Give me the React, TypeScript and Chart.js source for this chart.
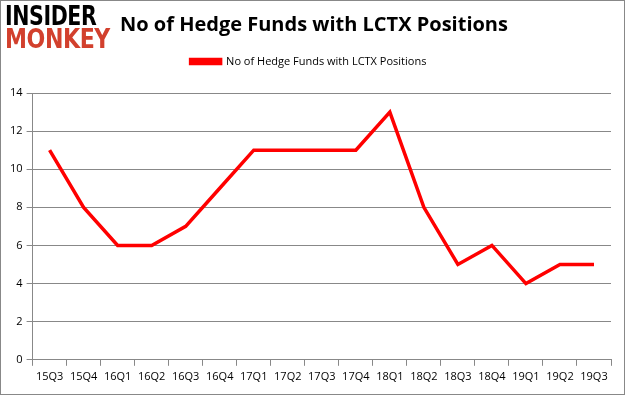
import React, { useEffect, useRef } from "react";
import { Chart, registerables } from "chart.js";

Chart.register(...registerables);

const categories = ["15Q3","15Q4","16Q1","16Q2","16Q3","16Q4","17Q1","17Q2","17Q3","17Q4","18Q1","18Q2","18Q3","18Q4","19Q1","19Q2","19Q3"];
const hedgeFunds = [11, 8, 6, 6, 7, 9, 11, 11, 11, 11, 13, 8, 5, 6, 4, 5, 5];
const seriesLabel = "No of Hedge Funds with LCTX Positions";
const titleText = "No of Hedge Funds with LCTX Positions";

const legendGap = {
  id: "legendGap",
  beforeInit(chart: any) {
    const fit = chart.legend.fit;
    chart.legend.fit = function () {
      fit.bind(this)();
      this.height += 16;
    };
  },
};

export default function App() {
  const ref = useRef<HTMLCanvasElement>(null);
  useEffect(() => {
    const ctx = ref.current!;
    const chart = new Chart(ctx, {
      type: "line",
      data: {
        labels: categories,
        datasets: [
          {
            label: seriesLabel,
            data: hedgeFunds,
            borderColor: "#ff0000",
            backgroundColor: "#ff0000",
            borderWidth: 3.5,
            pointRadius: 0,
            tension: 0,
          },
        ],
      },
      plugins: [legendGap],
      options: {
        animation: false,
        responsive: false,
        layout: { padding: { top: 46, left: 6, right: 14, bottom: 8 } },
        plugins: {
          legend: {
            display: true,
            labels: {
              boxWidth: 30,
              boxHeight: 4,
              color: "#000",
              font: { family: "'Open Sans', sans-serif", size: 11 },
              padding: 10,
            },
          },
          tooltip: { enabled: false },
        },
        scales: {
          x: {
            offset: true,
            grid: {
              offset: true,
              drawOnChartArea: false,
              color: "#888",
              tickLength: 6,
            },
            border: { color: "#888" },
            ticks: {
              color: "#000",
              font: { family: "'Open Sans', sans-serif", size: 11 },
              maxRotation: 0,
              autoSkip: false,
              padding: 4,
            },
          },
          y: {
            min: 0,
            max: 14,
            grid: { color: "#888", tickLength: 6 },
            border: { color: "#888" },
            ticks: {
              stepSize: 2,
              color: "#000",
              font: { family: "'Open Sans', sans-serif", size: 11 },
              padding: 4,
            },
          },
        },
      },
    });
    return () => chart.destroy();
  }, []);

  return (
    <div style={{ position: "fixed", left: 0, top: 0, width: 625, height: 395, background: "#fff" }}>
      <canvas ref={ref} width={625} height={395} style={{ position: "absolute", left: 0, top: 0 }} />
      <div style={{ position: "absolute", left: 0, top: 0, width: 623, height: 393, border: "1px solid #888" }} />
      <div style={{ position: "absolute", left: 5, top: 3, fontFamily: "'DejaVu Sans', sans-serif", fontWeight: 900, fontSize: 26, lineHeight: "26px", color: "#000", transform: "scaleX(0.79)", transformOrigin: "left top", letterSpacing: -0.5 }}>INSIDER</div>
      <div style={{ position: "absolute", left: 5, top: 26, fontFamily: "'DejaVu Sans', sans-serif", fontWeight: 900, fontSize: 26, lineHeight: "26px", color: "#d2402d", transform: "scaleX(0.85)", transformOrigin: "left top", letterSpacing: -0.5 }}>MONKEY</div>
      <div style={{ position: "absolute", left: 120, top: 10, fontFamily: "'Open Sans', sans-serif", fontWeight: 700, fontSize: 20, lineHeight: "28px", color: "#000", whiteSpace: "nowrap" }}>{titleText}</div>
    </div>
  );
}
